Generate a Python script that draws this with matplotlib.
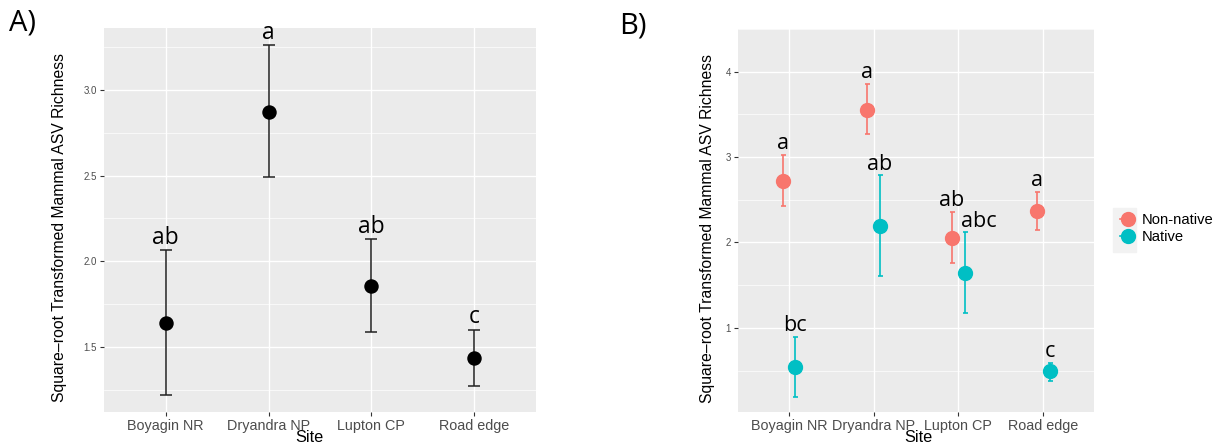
import numpy as np
import matplotlib.pyplot as plt
from matplotlib.lines import Line2D

# Data
sites = ['Boyagin NR', 'Dryandra NP', 'Lupton CP', 'Road edge']

# A) all mammals
a_mean = [1.64, 2.873, 1.856, 1.436]
a_low = [1.218, 2.491, 1.584, 1.272]
a_high = [2.063, 3.261, 2.127, 1.598]
a_letters = ['ab', 'a', 'ab', 'c']

# B) by origin
groups = ['Non-native', 'Native']
b_mean = {'Non-native': [2.724, 3.556, 2.056, 2.370],
          'Native': [0.542, 2.192, 1.647, 0.490]}
b_low = {'Non-native': [2.431, 3.265, 1.755, 2.150],
         'Native': [0.190, 1.602, 1.175, 0.382]}
b_high = {'Non-native': [3.024, 3.856, 2.356, 2.597],
          'Native': [0.895, 2.787, 2.118, 0.594]}
b_letters = {'Non-native': ['a', 'a', 'ab', 'a'],
             'Native': ['bc', 'ab', 'abc', 'c']}

colors = {'Non-native': '#F8766D', 'Native': '#00BFC4'}
dodge = {'Non-native': -0.075, 'Native': 0.075}

plt.rcParams['font.family'] = ['Liberation Sans', 'DejaVu Sans']
LETTER_FONT = ['Open Sans', 'DejaVu Sans']


def gg_style(ax, yticks, ylabels, ylim):
    ax.set_facecolor('#EBEBEB')
    for s in ax.spines.values():
        s.set_visible(False)
    ax.set_xlim(-0.6, len(sites) - 0.4)
    ax.set_ylim(*ylim)
    ax.set_xticks(range(len(sites)))
    ax.set_xticklabels(sites, fontsize=10.4, color='#4D4D4D')
    ax.set_yticks(yticks)
    ax.set_yticklabels(ylabels, fontsize=7, color='#4D4D4D')
    minor = [(yticks[i] + yticks[i + 1]) / 2 for i in range(len(yticks) - 1)]
    step = yticks[1] - yticks[0]
    minor = [yticks[0] - step / 2] + minor + [yticks[-1] + step / 2]
    ax.set_yticks(minor, minor=True)
    ax.tick_params(axis='y', which='minor', length=0)
    ax.tick_params(axis='both', which='major', color='#333333', length=3,
                   width=0.8, pad=2)
    ax.grid(which='major', color='white', lw=1.0)
    ax.grid(which='minor', axis='y', color='white', lw=0.5)
    ax.set_axisbelow(True)
    ax.set_ylabel('Square\u2013root Transformed Mammal ASV Richness',
                  fontsize=11.3)
    ax.set_xlabel('Site', fontsize=11.7)


fig = plt.figure(figsize=(12.29, 4.43), dpi=100)

# ---- Panel A
axA = fig.add_axes([0.0846, 0.070, 0.3515, 0.8668])
gg_style(axA, [1.5, 2.0, 2.5, 3.0], ['1.5', '2.0', '2.5', '3.0'], (1.119, 3.362))
x = np.arange(len(sites))
a_mean = np.array(a_mean)
axA.errorbar(x, a_mean, yerr=[a_mean - np.array(a_low), np.array(a_high) - a_mean],
             fmt='o', color='black', ms=9.4, elinewidth=1.1, capsize=4,
             capthick=1.1, ecolor='#222222', zorder=3)
for xi, top, lab in zip(x, a_high, a_letters):
    axA.annotate(lab, (xi, top), xytext=(0, 0.5), textcoords='offset points',
                 ha='center', va='bottom', fontsize=16.5, family=LETTER_FONT)
axA.yaxis.set_label_coords(-0.0857, 0.48)
axA.xaxis.set_label_coords(0.475, -0.046)

# ---- Panel B
axB = fig.add_axes([0.6005, 0.070, 0.2897, 0.8645])
gg_style(axB, [1, 2, 3, 4], ['1', '2', '3', '4'], (0.015, 4.028))
nudge = {'abc': 10}
for g in groups:
    xs = x + dodge[g]
    m = np.array(b_mean[g])
    axB.errorbar(xs, m, yerr=[m - np.array(b_low[g]), np.array(b_high[g]) - m],
                 fmt='o', color=colors[g], ms=10, elinewidth=1.2, capsize=1.8,
                 capthick=1.2, zorder=3)
    for xi, top, lab in zip(xs, b_high[g], b_letters[g]):
        axB.annotate(lab, (xi, top), xytext=(nudge.get(lab, 0), 0.5),
                     textcoords='offset points', ha='center', va='bottom',
                     fontsize=15.5, family=LETTER_FONT)
axB.yaxis.set_label_coords(-0.0646, 0.48)
axB.xaxis.set_label_coords(0.508, -0.046)

# legend
fig.patches.append(plt.Rectangle((1113 / 1229, 1 - 252 / 443), 23 / 1229, 44 / 443,
                                 transform=fig.transFigure, color='#F2F2F2',
                                 zorder=0))
handles = [Line2D([0], [0], color=colors[g], marker='o', ms=10, lw=1.2)
           for g in groups]
fig.legend(handles, groups, loc='center left', bbox_to_anchor=(1107 / 1229, 0.484),
           frameon=False, fontsize=10.6, handlelength=1.0, handletextpad=0.45,
           labelspacing=0.25)

# panel tags
fig.text(0.007, 0.948, 'A)', fontsize=21, family=LETTER_FONT, va='center')
fig.text(0.504, 0.942, 'B)', fontsize=21, family=LETTER_FONT, va='center')

fig.savefig('out.png', dpi=100)
